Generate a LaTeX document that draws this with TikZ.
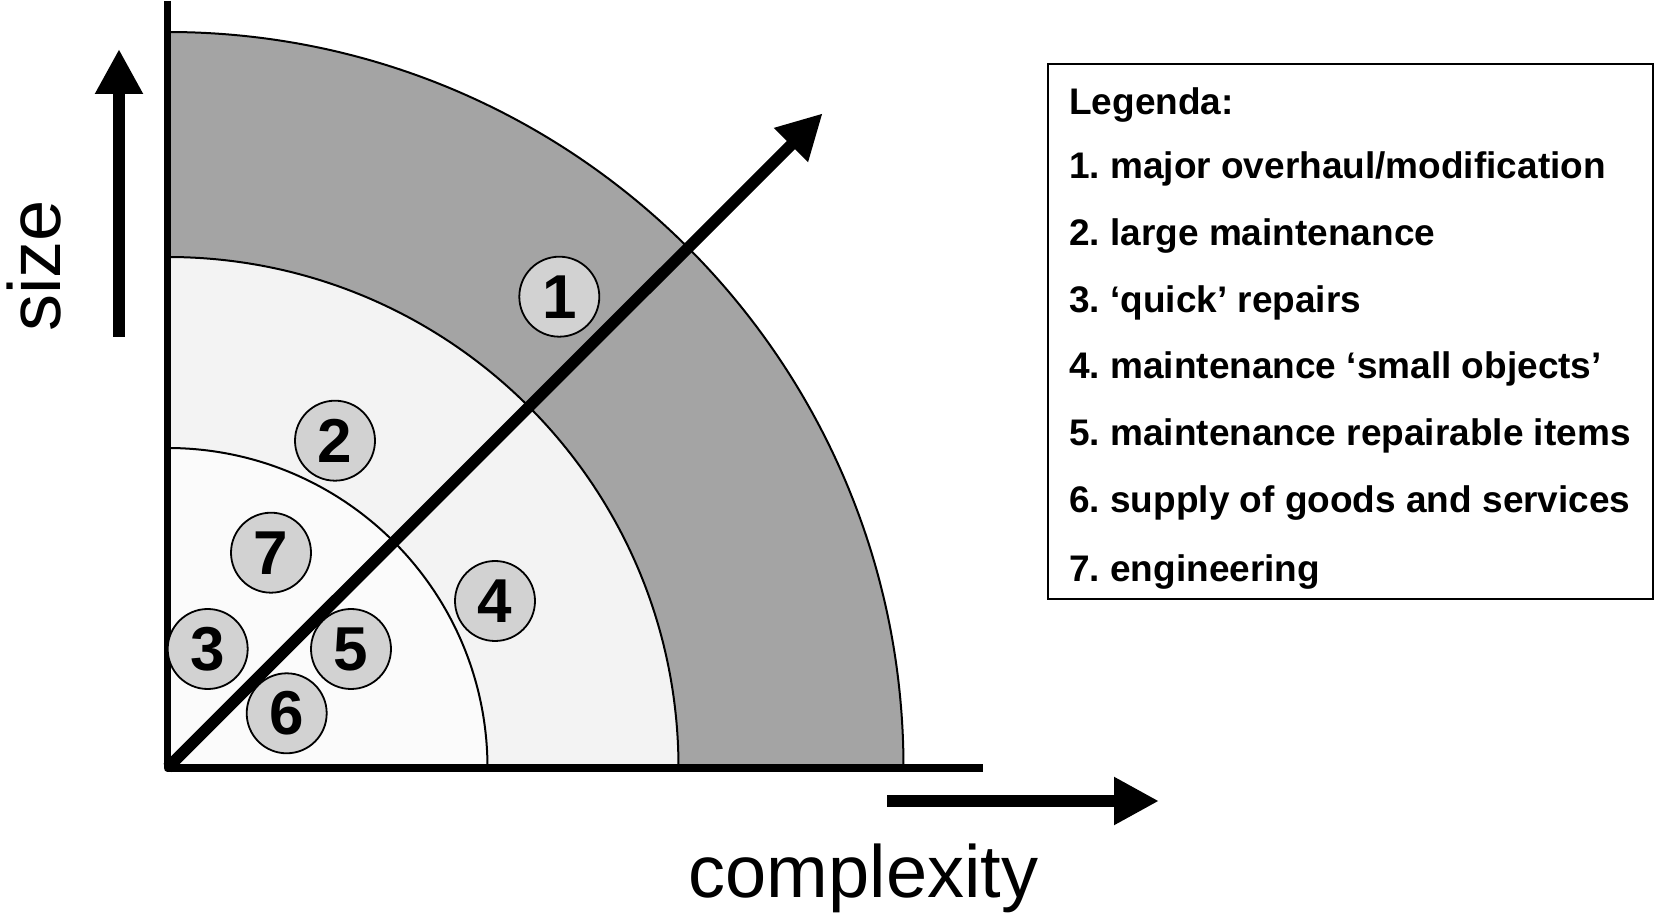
\documentclass[tikz,border=0pt]{standalone}
\usepackage{fontspec}
\setmainfont{Liberation Sans}
\usetikzlibrary{arrows.meta}
\frenchspacing

\definecolor{bandouter}{HTML}{A4A4A4}
\definecolor{bandmid}{HTML}{F3F3F3}
\definecolor{bandinner}{HTML}{FBFBFB}
\definecolor{markfill}{HTML}{D2D2D2}

\tikzset{
  band/.style={draw=black, line width=2pt},
  axisline/.style={line width=7.5pt, line join=round},
  bigarrow/.style={line width=12pt, -{Triangle[length=45pt,width=45pt]}},
  diagarrow/.style={line width=11.5pt, -{Triangle[length=45pt,width=45pt]}},
  marker/.style={circle, draw=black, line width=1.8pt, fill=markfill,
    minimum size=80pt, inner sep=0pt,
    font=\fontsize{62}{62}\selectfont\bfseries},
  axislabel/.style={font=\fontsize{74}{80}\selectfont, inner sep=0pt},
  legendline/.style={anchor=base west, inner sep=0pt,
    font=\fontsize{37}{40}\selectfont\bfseries},
}

\begin{document}
\begin{tikzpicture}[x=1pt, y=1pt]
\useasboundingbox (0,0) rectangle (1654,916);

% origin of the quarter rings
\coordinate (O) at (167.5,148);

% three concentric quarter rings, outermost first
\fill[bandouter] (O) -- ++(736,0) arc[start angle=0, end angle=90, radius=736] -- cycle;
\draw[band] (O) ++(736,0) arc[start angle=0, end angle=90, radius=736];
\fill[bandmid] (O) -- ++(511,0) arc[start angle=0, end angle=90, radius=511] -- cycle;
\draw[band] (O) ++(511,0) arc[start angle=0, end angle=90, radius=511];
\fill[bandinner] (O) -- ++(320,0) arc[start angle=0, end angle=90, radius=320] -- cycle;
\draw[band] (O) ++(320,0) arc[start angle=0, end angle=90, radius=320];

% axes
\coordinate (ytop) at (167.5,915);
\coordinate (xend) at (983,148);
\draw[axisline] (ytop) -- (O) -- (xend);

% diagonal arrow
\coordinate (diagtip) at (822.7,802.7);
\draw[diagarrow] (O) -- (diagtip);

% numbered markers
\node[marker] (m1) at (559.3,619.3) {1};
\node[marker] (m2) at (335,475.3) {2};
\node[marker] (m3) at (207.7,267) {3};
\node[marker] (m4) at (495,315) {4};
\node[marker] (m5) at (351,267) {5};
\node[marker] (m6) at (286.7,202.7) {6};
\node[marker] (m7) at (271,363.3) {7};

% direction arrows and axis labels
\coordinate (sizefrom) at (119,579);
\coordinate (sizeto) at (119,867);
\draw[bigarrow] (sizefrom) -- (sizeto);
\node[axislabel, rotate=90, anchor=base] (sizelabel) at (60,650) {size};

\coordinate (cxfrom) at (887,115);
\coordinate (cxto) at (1159,115);
\draw[bigarrow] (cxfrom) -- (cxto);
\node[axislabel, anchor=base] (cxlabel) at (863.5,19) {complexity};

% legend
\node[draw=black, line width=2pt, anchor=north west, inner sep=0pt,
      minimum width=604.4pt, minimum height=535pt] (legend) at (1047.3,852.7) {};
\node[legendline] (l0) at (1069,801.3) {Legenda:};
\node[legendline] (l1) at (1069,737.4) {1. major overhaul/modification};
\node[legendline] (l2) at (1069,670.7) {2. large maintenance};
\node[legendline] (l3) at (1069,603.8) {3. ‘quick’ repairs};
\node[legendline] (l4) at (1069,537.2) {4. maintenance ‘small objects’};
\node[legendline] (l5) at (1069,470.3) {5. maintenance repairable items};
\node[legendline] (l6) at (1069,403.6) {6. supply of goods and services};
\node[legendline] (l7) at (1069,334.4) {7. engineering};
\end{tikzpicture}
\end{document}
